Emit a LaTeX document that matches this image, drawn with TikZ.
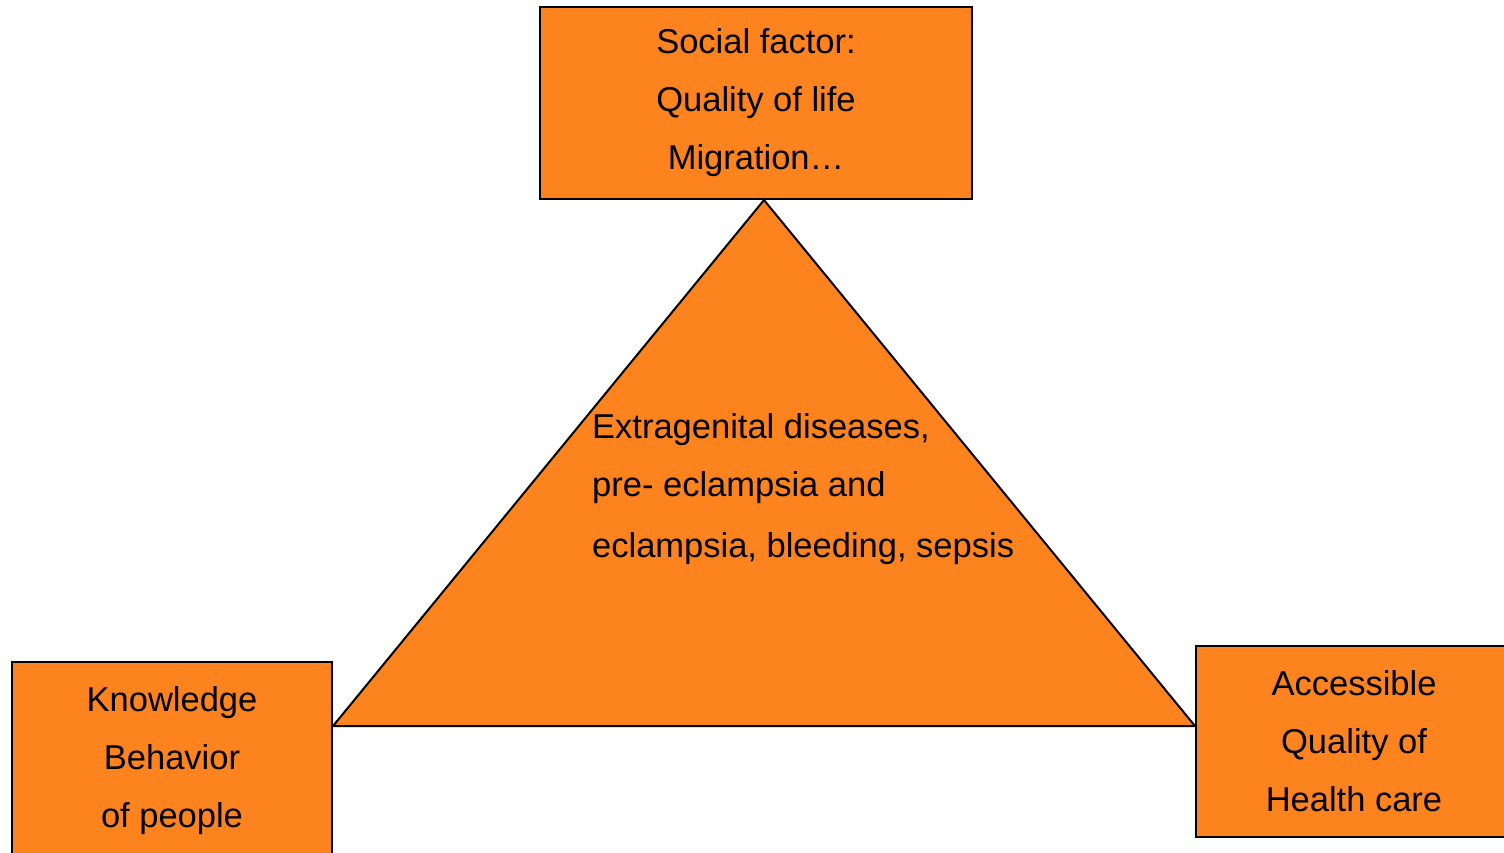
\documentclass[tikz,border=0pt]{standalone}
\usepackage{fontspec}
\setmainfont{Liberation Sans}
\usepackage{xcolor}
\usetikzlibrary{positioning}
\definecolor{boxorange}{RGB}{253,131,31}

\begin{document}
\begin{tikzpicture}[x=1pt, y=-1pt,
factorbox/.style={rectangle, draw=black, fill=boxorange, line width=2pt, inner sep=0pt, align=center, font=\fontsize{34.5}{58}\selectfont},
]
\useasboundingbox (0,0) rectangle (1504,852);
\clip (0,0) rectangle (1504,852);
%Nodes
\node[factorbox, minimum width=320pt, minimum height=198pt] (knowledge) at (172,761) {Knowledge\\Behavior\\of people};
\node[factorbox, minimum width=432pt, minimum height=192pt] (social) at (756,103) {Social factor:\\Quality of life\\Migration\dots};
\node[factorbox, minimum width=316pt, minimum height=191pt] (care) at (1354,741) {Accessible\\Quality of\\Health care};

\coordinate (apex) at (social.south -| 764,0);
\coordinate (baseleft) at (knowledge.east |- 0,726);
\coordinate (baseright) at (care.west |- 0,726);

%Lines
\draw[fill=boxorange, line width=2pt, line join=miter] (apex) -- (baseright) -- (baseleft) -- cycle;

\node[anchor=west, align=left, inner sep=0pt, font=\fontsize{34.5}{58}\selectfont] (causes) at (592,489) {Extragenital diseases,\\pre- eclampsia and\\[3pt]eclampsia, bleeding, sepsis};

\end{tikzpicture}
\end{document}
